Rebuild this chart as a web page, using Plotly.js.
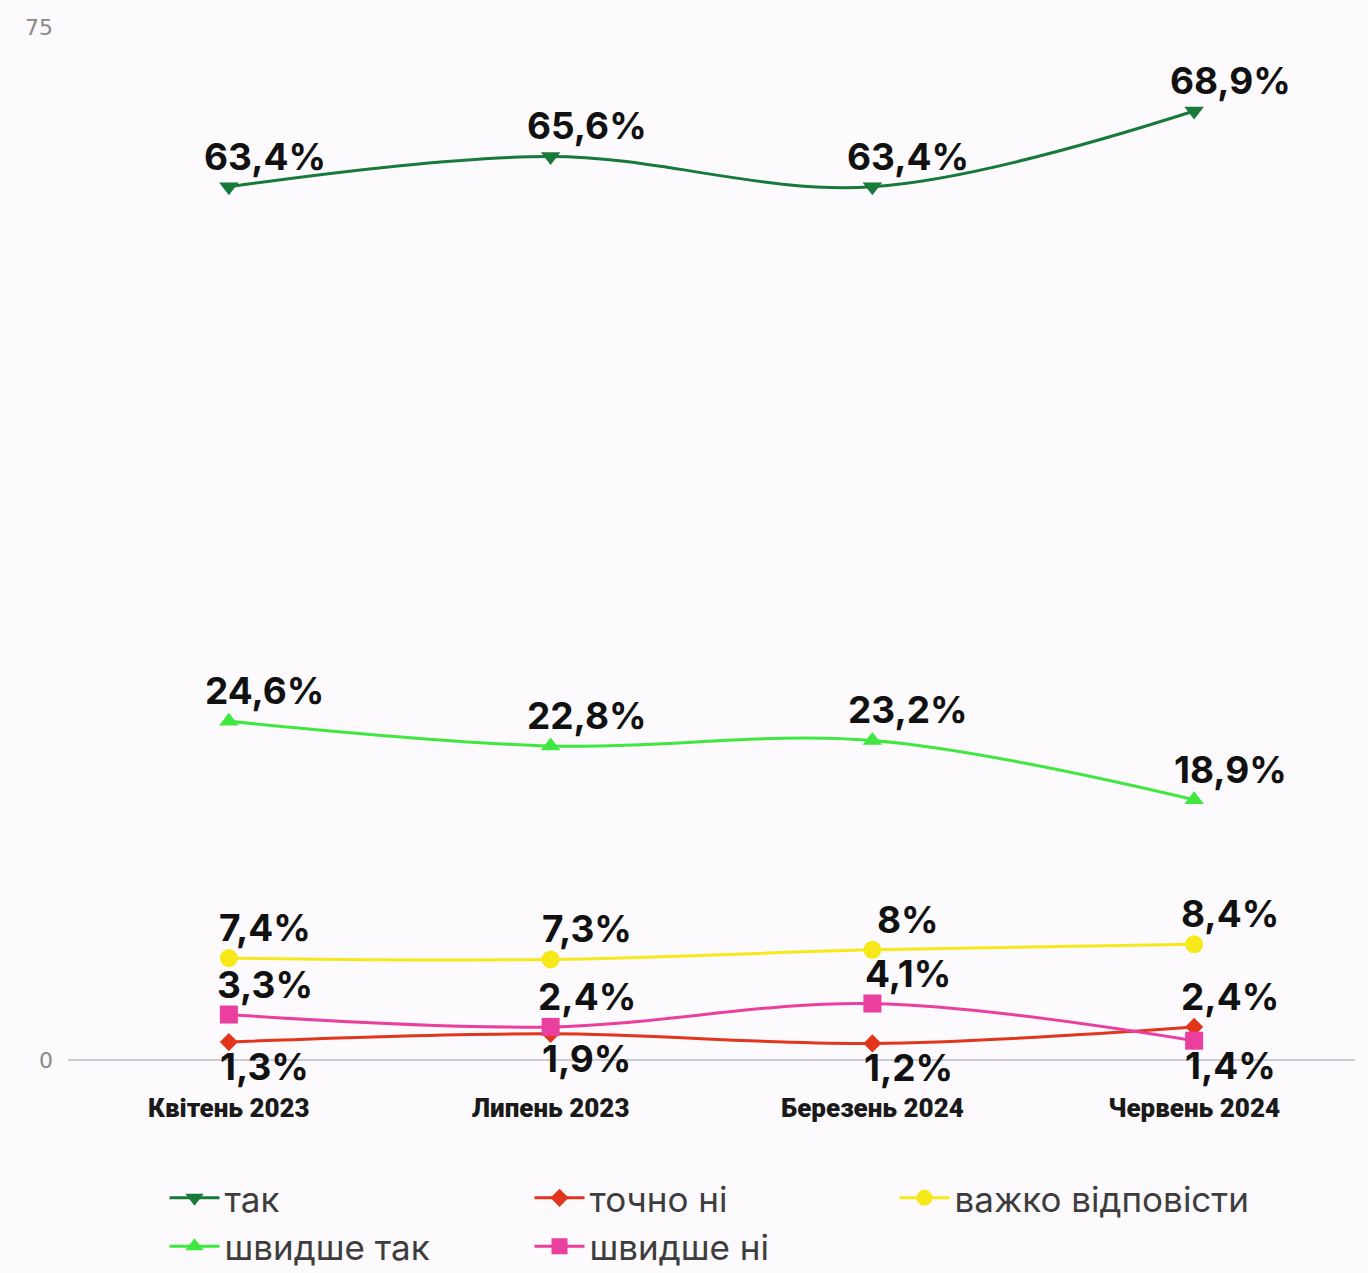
<!DOCTYPE html>
<html>
<head>
<meta charset="utf-8">
<script src="https://cdn.plot.ly/plotly-3.0.1.min.js"></script>
<style>
html,body{margin:0;padding:0;background:#fcfafc;}
#chart{width:1368px;height:1273px;}
</style>
</head>
<body>
<div id="chart"></div>
<script>
const categories = ["Квітень 2023", "Липень 2023", "Березень 2024", "Червень 2024"];
const seriesNames = ["так", "точно ні", "важко відповісти", "швидше так", "швидше ні"];
const tak = [63.4, 65.6, 63.4, 68.9];
const tochnoNi = [1.3, 1.9, 1.2, 2.4];
const vazhko = [7.4, 7.3, 8.0, 8.4];
const shvydsheTak = [24.6, 22.8, 23.2, 18.9];
const shvydsheNi = [3.3, 2.4, 4.1, 1.4];
const yTicks = [0, 75];

const seriesValues = [tak, tochnoNi, vazhko, shvydsheTak, shvydsheNi];
const colors = ["#17793a", "#e2361c", "#f7e81a", "#3ee83f", "#ea3f9f"];
const symbols = ["triangle-down", "diamond", "circle", "triangle-up", "square"];
const markerSizes = [17, 14, 18, 17, 18];
// label placement: true = above the point, false = below
const labelAbove = [
  [true, true, true, true],
  [false, false, false, true],
  [true, true, true, true],
  [true, true, true, true],
  [true, true, true, false]
];

function fmt(v){
  return (Math.round(v*10)/10).toString().replace('.', ',') + '%';
}

const traces = seriesValues.map((vals, i) => ({
  type: 'scatter',
  mode: 'lines+markers',
  name: seriesNames[i],
  x: categories,
  y: vals,
  line: {color: colors[i], width: 3, shape: 'spline', smoothing: 1},
  marker: {color: colors[i], symbol: symbols[i], size: markerSizes[i]},
  hoverinfo: 'skip'
}));

const annotations = [];
seriesValues.forEach((vals, i) => {
  vals.forEach((v, j) => {
    const above = labelAbove[i][j];
    annotations.push({
      x: categories[j], y: v, xref: 'x', yref: 'y',
      text: fmt(v), showarrow: false,
      xanchor: 'center', yanchor: above ? 'bottom' : 'top',
      xshift: 36, yshift: above ? 6 : 0,
      font: {family: 'Inter, Roboto, sans-serif', size: 37, color: '#111111', weight: 700}
    });
  });
});

const layout = {
  width: 1368, height: 1273,
  paper_bgcolor: '#fcfafc', plot_bgcolor: '#fcfafc',
  margin: {l: 68, r: 13, t: 27, b: 213, autoexpand: false},
  showlegend: true,
  legend: {
    orientation: 'h', x: 0.075, xanchor: 'left',
    yref: 'container', y: 0.082, yanchor: 'top',
    entrywidth: 300, entrywidthmode: 'pixels',
    font: {family: 'Inter, "Noto Sans", sans-serif', size: 35, color: '#3d3d3d'},
    itemwidth: 50, tracegroupgap: 0
  },
  xaxis: {
    type: 'category', range: [-0.5, 3.5],
    showgrid: false, zeroline: false, showline: false,
    ticks: '', ticklen: 0, ticklabelstandoff: 30,
    tickfont: {family: 'Roboto, sans-serif', size: 26, color: '#1a1a1a', weight: 900}
  },
  yaxis: {
    range: [0, 75], tickvals: yTicks, ticktext: yTicks.map(String),
    showgrid: true, gridcolor: '#e3e3e6', gridwidth: 1.5,
    zeroline: true, zerolinecolor: '#c9ccd2', zerolinewidth: 2,
    showline: false, ticks: '', ticklabelstandoff: 14,
    tickfont: {family: '"DejaVu Sans", sans-serif', size: 22, color: '#8a8a8a'}
  },
  annotations: annotations
};

Plotly.newPlot('chart', traces, layout, {displayModeBar: false, staticPlot: true});
</script>
</body>
</html>
